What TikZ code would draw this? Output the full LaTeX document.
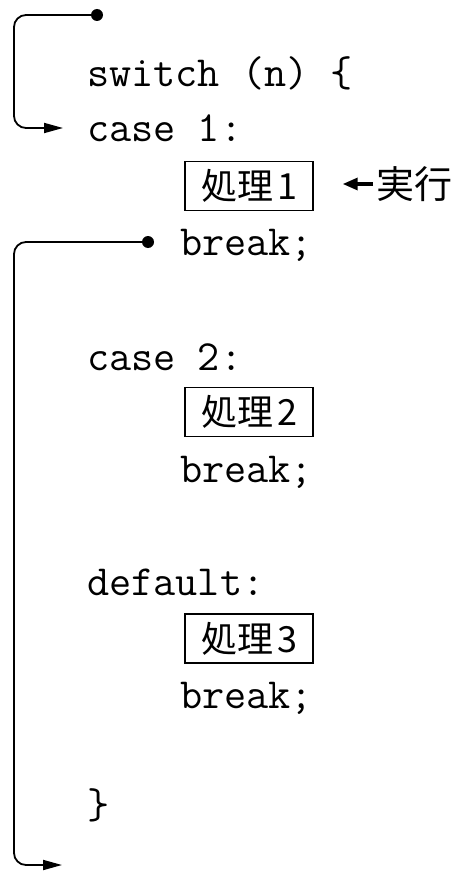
\documentclass[tikz,border=0pt]{standalone}
\usepackage{fontspec}
\newfontfamily\cjk{Noto Sans CJK JP}
\usetikzlibrary{arrows.meta}
\begin{document}
\begin{tikzpicture}[x=1pt,y=-1pt,
  code/.style={anchor=base west, inner sep=0pt, font=\fontsize{43}{43}\selectfont\ttfamily},
  procbox/.style={draw, line width=1.4pt, minimum width=128pt, minimum height=49pt, inner sep=0pt, font=\fontsize{36}{36}\selectfont\cjk},
  flow/.style={line width=1.8pt, rounded corners=12pt, -{Triangle[length=19pt,width=10pt]}},
  dotc/.style={circle, fill, inner sep=0pt, minimum size=12pt},
  execarrow/.style={line width=3.2pt, -{Triangle[length=15pt,width=12pt]}}]
\useasboundingbox (0,0) rectangle (456,872);

\node[code] (sw) at (87,87) {switch (n) \{};
\node[code] (c1) at (87,142) {case 1:};
\node[procbox] (p1) at (249,186) {処理\hspace{4pt}1};
\node[font=\fontsize{38}{38}\selectfont\cjk, anchor=west, inner sep=0pt] (ex) at (376,184) {実行};
\node[code] (b1) at (180,255) {break;};
\node[code] (c2) at (87,370) {case 2:};
\node[procbox] (p2) at (249,412) {処理\hspace{4pt}2};
\node[code] (b2) at (180,482) {break;};
\node[code] (df) at (87,595) {default:};
\node[procbox] (p3) at (249,638.5) {処理\hspace{4pt}3};
\node[code] (b3) at (180,708) {break;};
\node[code] (cl) at (87,818) {\}};

\draw[execarrow, shorten <=3pt, shorten >=29pt] (ex.west) -- (p1.east |- ex.west);

\node[dotc] (d1) at (97,15) {};
\node[dotc] (d2) at (148,242) {};
\coordinate (l1) at (14,128);
\coordinate (e1) at (63,128);
\coordinate (l2) at (14,865);
\coordinate (e2) at (62,865);
\draw[flow] (d1.center) -| (l1) -- (e1);
\draw[flow] (d2.center) -| (l2) -- (e2);
\end{tikzpicture}
\end{document}
